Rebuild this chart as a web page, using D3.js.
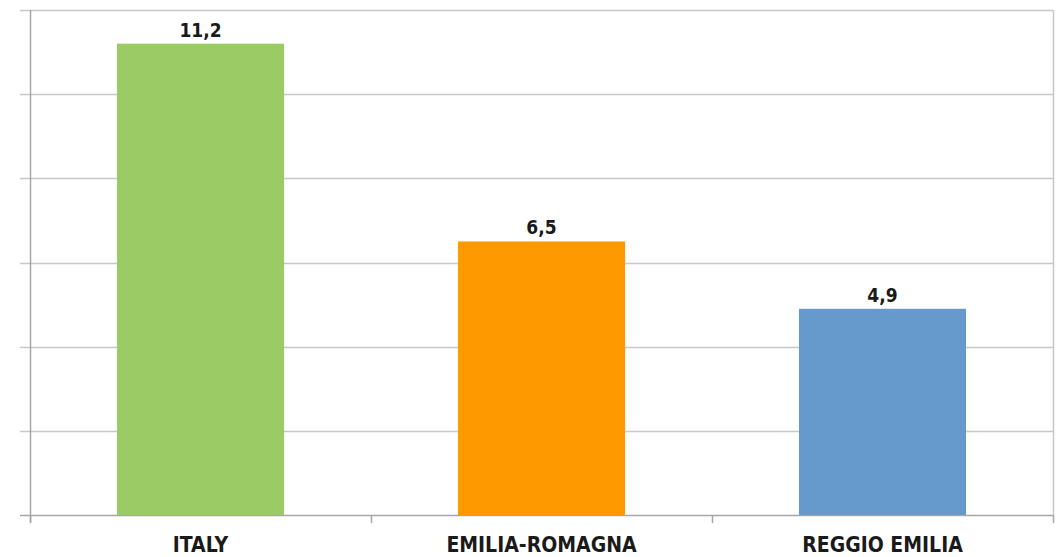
<!DOCTYPE html>
<html>
<head>
<meta charset="utf-8">
<script src="https://cdn.jsdelivr.net/npm/d3@7"></script>
<style>
  body { margin: 0; background: #fff; }
  text { font-family: "DejaVu Sans Condensed", "DejaVu Sans", sans-serif; font-weight: bold; fill: #1a1a1a; }
</style>
</head>
<body>
<script>
// chart data
var categories = ["ITALY", "EMILIA-ROMAGNA", "REGGIO EMILIA"];
var values = [11.2, 6.5, 4.9];
var valueLabels = ["11,2", "6,5", "4,9"];
var barColors = ["#9bcb65", "#ff9900", "#6699cc"];
var yTicks = [0, 2, 4, 6, 8, 10, 12];

var width = 1062,
	height = 557;

// plot area edges
var plotLeft = 30, plotRight = 1053, plotTop = 10, plotBottom = 515;

var svg = d3.select("body")
	.append("svg")
	.attr("width", width)
	.attr("height", height);

var x = d3.scaleBand()
	.domain(categories)
	.range([plotLeft, plotRight])
	.paddingInner(0.51)
	.paddingOuter(0.255);

var y = d3.scaleLinear()
	.domain([0, 12])
	.range([plotBottom, plotTop]);

// horizontal gridlines (they run past the axis as tick marks)
svg.append("g")
	.selectAll("line")
	.data(yTicks)
	.enter().append("line")
	.attr("x1", plotLeft - 10)
	.attr("x2", plotRight)
	.attr("y1", function(d) { return Math.round(y(d)) + 0.5; })
	.attr("y2", function(d) { return Math.round(y(d)) + 0.5; })
	.attr("stroke", function(d) { return d === 0 ? "#a6a6a6" : "#c8c8c8"; })
	.attr("stroke-width", 1.5);

// right border of plot area
svg.append("line")
	.attr("x1", plotRight + 0.5).attr("x2", plotRight + 0.5)
	.attr("y1", plotTop).attr("y2", plotBottom)
	.attr("stroke", "#c8c8c8")
	.attr("stroke-width", 1.5);

// y axis line
svg.append("line")
	.attr("x1", plotLeft + 0.5).attr("x2", plotLeft + 0.5)
	.attr("y1", plotTop).attr("y2", plotBottom + 8)
	.attr("stroke", "#a6a6a6")
	.attr("stroke-width", 1.5);

// bars
svg.append("g")
	.selectAll("rect")
	.data(values)
	.enter().append("rect")
	.attr("x", function(d, i) { return x(categories[i]); })
	.attr("y", function(d) { return y(d); })
	.attr("width", x.bandwidth())
	.attr("height", function(d) { return y(0) - y(d); })
	.attr("fill", function(d, i) { return barColors[i]; });

// x axis, category labels
var xAxis = d3.axisBottom(x).tickSize(0).tickPadding(22);
var gx = svg.append("g")
	.attr("transform", "translate(0," + plotBottom + ")")
	.call(xAxis);
gx.select(".domain").remove();
gx.selectAll("text")
	.attr("font-size", 21)
	.attr("fill", "#1a1a1a")
	.style("font-family", "'DejaVu Sans Condensed', 'DejaVu Sans', sans-serif")
	.style("font-weight", "bold");

// category separator ticks
var sep = d3.range(categories.length + 1).map(function(i) { return plotLeft + i * x.step(); });
svg.append("g")
	.selectAll("line")
	.data(sep)
	.enter().append("line")
	.attr("x1", function(d) { return Math.round(d) + 0.5; })
	.attr("x2", function(d) { return Math.round(d) + 0.5; })
	.attr("y1", plotBottom)
	.attr("y2", plotBottom + 8)
	.attr("stroke", "#a6a6a6")
	.attr("stroke-width", 1.5);

// value labels
svg.append("g")
	.selectAll("text")
	.data(values)
	.enter().append("text")
	.attr("x", function(d, i) { return x(categories[i]) + x.bandwidth() / 2; })
	.attr("y", function(d) { return y(d) - 7; })
	.attr("text-anchor", "middle")
	.attr("font-size", 19)
	.text(function(d, i) { return valueLabels[i]; });
</script>
</body>
</html>
